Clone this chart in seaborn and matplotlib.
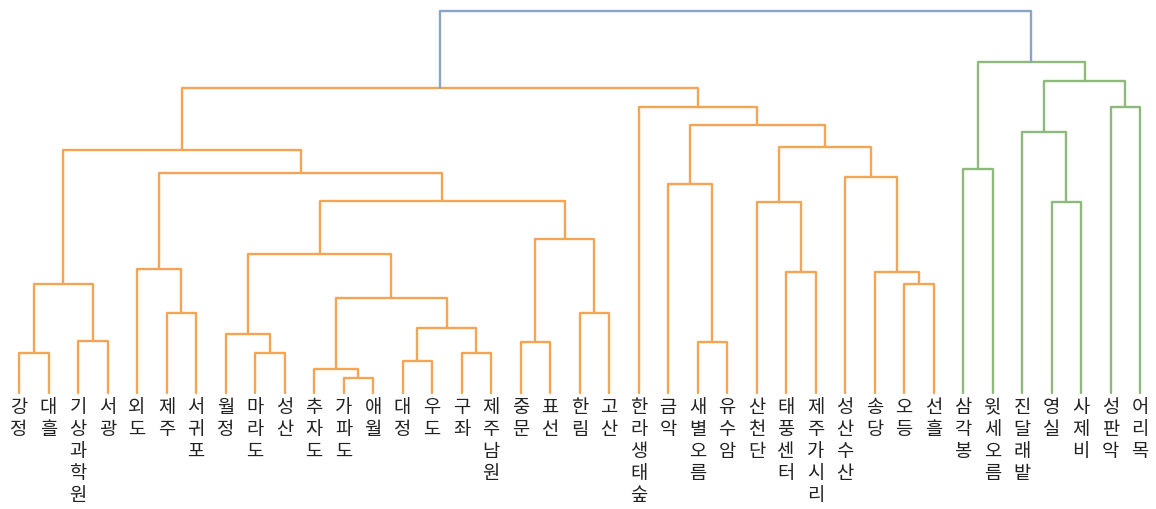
import matplotlib
matplotlib.use("Agg")
import matplotlib.pyplot as plt
import seaborn as sns
import pandas as pd

# ------------------------------------------
# data: leaf labels and the merge table (scipy-style linkage)
# ------------------------------------------
labels = ["강정", "대흘", "기상과학원", "서광", "외도", "제주", "서귀포", "월정", "마라도", "성산",
          "추자도", "가파도", "애월", "대정", "우도", "구좌", "제주남원", "중문", "표선", "한림",
          "고산", "한라생태숲", "금악", "새별오름", "유수암", "산천단", "태풍센터", "제주가시리",
          "성산수산", "송당", "오등", "선흘", "삼각봉", "윗세오름", "진달래밭", "영실", "사제비",
          "성판악", "어리목"]

# ids < 39 are leaves, id 39 + k is the cluster made by merge k
merge_left = [0, 2, 39, 5, 4, 8, 7, 11, 10, 13, 15, 48, 47, 45, 17, 19, 53, 52, 43, 41,
              23, 22, 26, 25, 30, 29, 28, 62, 60, 21, 58, 32, 35, 34, 37, 72, 70, 69]
merge_right = [1, 3, 40, 6, 42, 9, 44, 12, 46, 14, 16, 49, 50, 51, 18, 20, 54, 55, 56, 57,
               24, 59, 27, 61, 31, 63, 64, 65, 66, 67, 68, 33, 36, 71, 38, 73, 74, 75]
merge_height = [1.05, 1.37, 2.87, 2.11, 3.26, 1.05, 1.55, 0.39, 0.63, 0.84, 1.05, 1.71, 2.50,
                3.66, 1.34, 2.11, 4.05, 5.05, 5.79, 6.39, 1.34, 5.50, 3.18, 5.03, 2.87, 3.18,
                5.68, 6.47, 7.05, 7.53, 8.03, 5.89, 5.03, 6.87, 7.53, 8.21, 8.71, 10.05]

cluster_colors = {"root": "#8aa4c8", "left": "#f4a553", "right": "#8fb97c"}

# ------------------------------------------
# build dendrogram link coordinates
# ------------------------------------------
n = len(labels)
pos = {i: (float(i), 0.0) for i in range(n)}
group = {}
root_id = n + len(merge_height) - 1
group[root_id] = "root"
group[merge_left[-1]] = "left"
group[merge_right[-1]] = "right"

rows = []
for k, (a, b, h) in enumerate(zip(merge_left, merge_right, merge_height)):
    xa, ha = pos[a]
    xb, hb = pos[b]
    pos[n + k] = ((xa + xb) / 2, h)
    for px, py in [(xa, ha), (xa, h), (xb, h), (xb, hb)]:
        rows.append({"link": k, "x": px, "y": py})

# propagate the cluster group down from the top
for k in range(len(merge_height) - 1, -1, -1):
    g = group.get(n + k, "left")
    for c in (merge_left[k], merge_right[k]):
        if c >= n and c not in group:
            group[c] = g
df = pd.DataFrame(rows)
df["group"] = df["link"].map(lambda k: group[n + k])

# ------------------------------------------
# plot
# ------------------------------------------
sns.set_theme(style="white")
plt.rcParams["font.family"] = ["Noto Sans CJK KR", "DejaVu Sans"]

fig = plt.figure(figsize=(11.56, 5.09), dpi=100)
ax = fig.add_axes([0, 0, 1, 1])
sns.lineplot(data=df, x="x", y="y", units="link", hue="group", estimator=None, sort=False,
             palette=cluster_colors, linewidth=1.7, legend=False, ax=ax)

for i, lab in enumerate(labels):
    ax.text(i, -0.1, "\n".join(lab), ha="center", va="top", fontsize=13.5,
            color="#222222", linespacing=1.06)

ax.set_xlim(-0.644, 38.54)
ax.set_ylim(-3.05, 10.34)
ax.axis("off")
fig.savefig("out.png", dpi=100)
